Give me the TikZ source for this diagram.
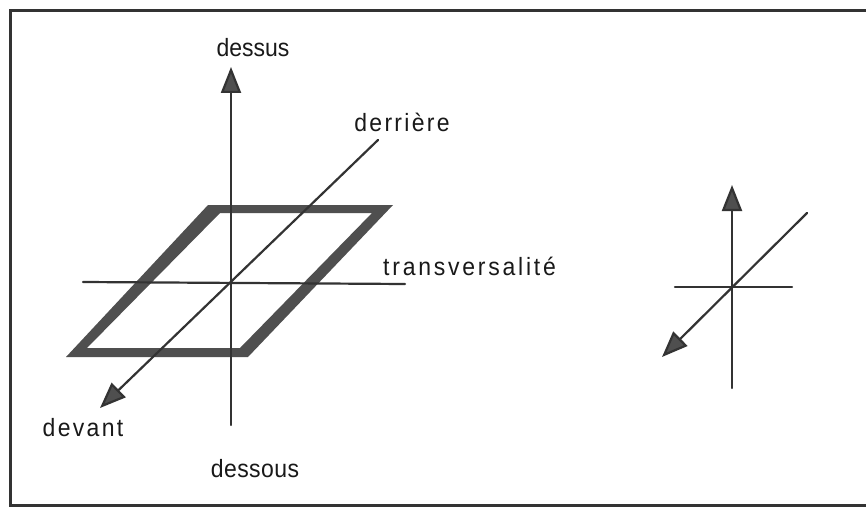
\documentclass[tikz,border=0pt]{standalone}
\usepackage{graphicx}
\usepackage{fontspec}
\setmainfont{Liberation Sans}
\newfontfamily\lblA[LetterSpace=0]{Liberation Sans}
\newfontfamily\lblD[LetterSpace=2]{Liberation Sans}
\newfontfamily\lblB[LetterSpace=10]{Liberation Sans}
\newfontfamily\lblC[LetterSpace=12]{Liberation Sans}
\newcommand{\narrowtxt}[1]{\scalebox{0.92}[1]{#1}}
\usetikzlibrary{arrows.meta}
\definecolor{ink}{HTML}{333333}
\definecolor{band}{HTML}{4F4F4F}
\tikzset{
  axis/.style={draw=ink, line width=2.2pt, line cap=round},
  arrowed/.style={axis, -{Triangle[length=26pt,width=20pt,fill=band]}},
  lbl/.style={inner sep=0pt, anchor=base, text=black!90},
}
\begin{document}
\begin{tikzpicture}[x=1pt,y=-1pt]
\useasboundingbox (0,0) rectangle (866,513);
\fill[white] (0,0) rectangle (866,513);
\begin{scope}
\clip (0,0) rectangle (866,513);
\draw[draw=ink, line width=3pt] (880,11) -- (10,11) -- (10,505) -- (880,505);
\end{scope}
% parallelogram band
\fill[band, even odd rule]
  (208,205) -- (393,205) -- (248,357) -- (66,357) -- cycle
  (220,213) -- (372,213) -- (240,348) -- (87,348) -- cycle;
% big axes
\coordinate (vbot) at (231,425);
\coordinate (vtop) at (231,67);
\coordinate (hl) at (83,282);
\coordinate (hr) at (405,284);
\coordinate (dtop) at (378,140);
\coordinate (dtip) at (100,408);
\draw[axis] (hl) -- (hr);
\draw[arrowed] (vbot) -- (vtop);
\draw[arrowed] (dtop) -- (dtip);
% labels
\node[lbl, font=\lblA\fontsize{25}{29}\selectfont] (ldessus) at (253,57) {\narrowtxt{dessus}};
\node[lbl, font=\lblD\fontsize{25}{29}\selectfont] (ldessous) at (255,477) {\narrowtxt{dessous}};
\node[lbl, font=\lblB\fontsize{25}{29}\selectfont] (lderriere) at (402,132) {\narrowtxt{derrière}};
\node[lbl, font=\lblC\fontsize{25}{29}\selectfont, anchor=base west] (ltrans) at (383,275) {\narrowtxt{transversalité}};
\node[lbl, font=\lblB\fontsize{25}{29}\selectfont] (ldevant) at (83,436) {\narrowtxt{devant}};
% small figure
\coordinate (svbot) at (732,388);
\coordinate (svtop) at (732,185);
\coordinate (shl) at (675,287);
\coordinate (shr) at (792,287);
\coordinate (sdtop) at (807,213);
\coordinate (sdtip) at (662,357);
\draw[axis] (shl) -- (shr);
\draw[arrowed] (svbot) -- (svtop);
\draw[arrowed] (sdtop) -- (sdtip);
\end{tikzpicture}
\end{document}
